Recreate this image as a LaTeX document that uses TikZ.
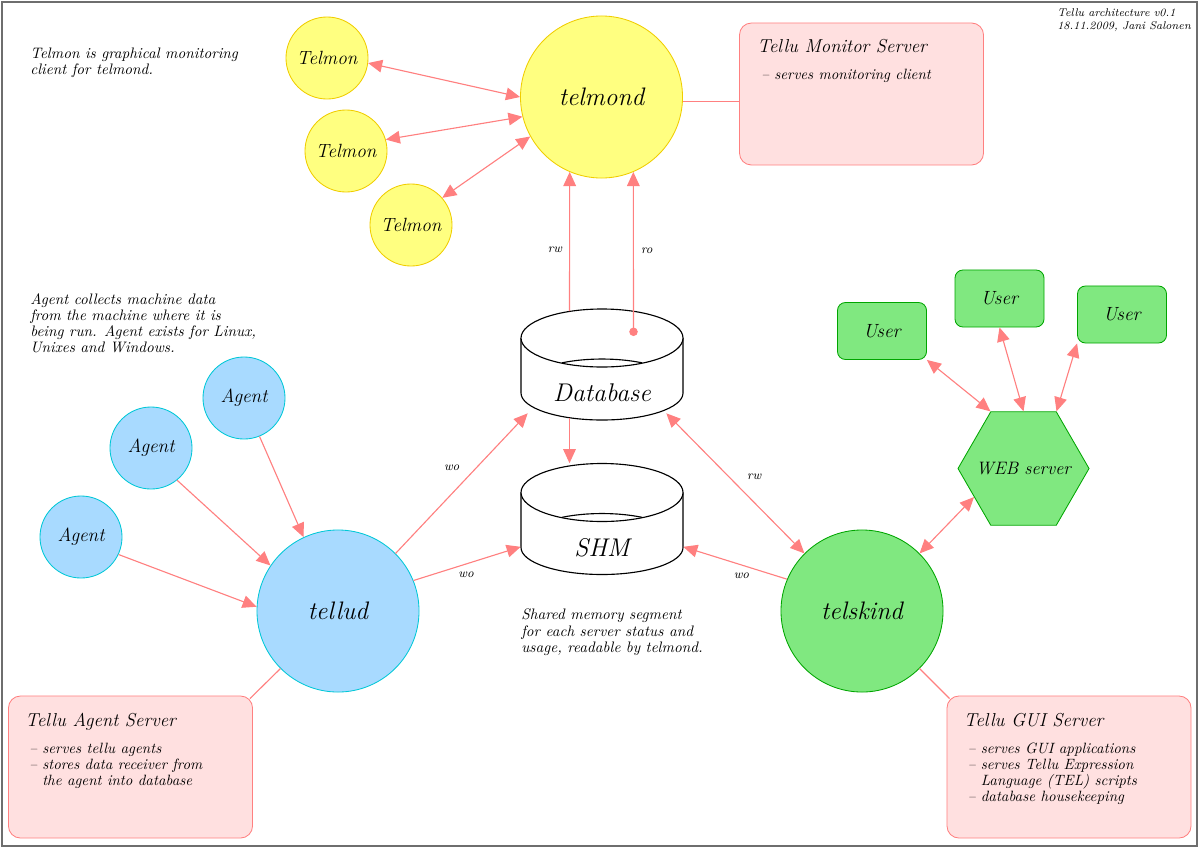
\documentclass[tikz,border=0pt]{standalone}
\usepackage{tikz}
\usetikzlibrary{arrows.meta,shapes.geometric}

\definecolor{linkred}{RGB}{255,128,128}
\definecolor{monfill}{RGB}{255,255,128}
\definecolor{monline}{RGB}{240,205,0}
\definecolor{agfill}{RGB}{168,218,255}
\definecolor{agline}{RGB}{0,200,215}
\definecolor{guifill}{RGB}{128,232,128}
\definecolor{guiline}{RGB}{0,165,0}
\definecolor{boxfill}{RGB}{255,224,224}
\definecolor{boxline}{RGB}{255,128,128}
\definecolor{framegray}{RGB}{110,110,110}

\tikzset{
  server/.style={circle, draw, line width=0.6pt, inner sep=0pt, minimum size=4.05cm, font=\itshape\fontsize{18}{20}\selectfont},
  client/.style={circle, draw, line width=0.6pt, inner sep=0pt, minimum size=2.05cm, font=\itshape\fontsize{13.6}{15}\selectfont},
  mon/.style={draw=monline, fill=monfill},
  ag/.style={draw=agline, fill=agfill},
  gui/.style={draw=guiline, fill=guifill},
  user/.style={rectangle, draw, line width=0.6pt, rounded corners=0.2cm, minimum width=2.225cm, minimum height=1.425cm, font=\itshape\fontsize{13.6}{15}\selectfont, gui},
  websrv/.style={regular polygon, regular polygon sides=6, draw, line width=0.6pt, inner sep=0pt, minimum size=3.275cm, gui,
    label={[font=\itshape\fontsize{12.8}{15}\selectfont]center:#1}},
  infobox/.style={rectangle, draw=boxline, fill=boxfill, line width=0.6pt, rounded corners=0.3cm, minimum width=6.1cm, minimum height=3.55cm, inner sep=0pt},
  boxtext/.style={anchor=north west, inner sep=0pt, align=left, font=\itshape\fontsize{10.6}{11.4}\selectfont},
  note/.style={anchor=north west, inner sep=0pt, align=left, font=\itshape\fontsize{10.8}{11.4}\selectfont},
  link/.style={draw=linkred, line width=0.8pt, >={Triangle[length=10pt,width=9pt]}},
  lbl/.style={font=\small\itshape, text=black, inner sep=5pt},
  pics/store/.style={code={
    \filldraw[line width=0.8pt, fill=white] (-81,-26.5) -- (-81,28.5)
      arc[start angle=180, end angle=0, x radius=81, y radius=27] -- (81,-26.5);
    \draw[line width=0.8pt, fill=white] (0,-26.5) ellipse[x radius=81, y radius=29];
    \draw[line width=0.8pt] (-40,-1.7) arc[start angle=240.4, end angle=299.6, x radius=81, y radius=29];
    \node[inner sep=0pt, minimum width=4.05cm, minimum height=2.775cm] (-box) at (0,0) {};
    \node[font=\itshape\fontsize{18.2}{20}\selectfont] (-text) at (0,28.5) {#1};
  }},
}
\newcommand{\bitem}{\hspace*{0.1cm}--\ }
\newcommand{\bcont}{\hspace*{0.1cm}\hphantom{--\ }}

\begin{document}
\begin{tikzpicture}[x=0.025cm, y=-0.025cm]
  \useasboundingbox (0,0) rectangle (1200,848);
  \draw[framegray, line width=0.8pt] (2,2) rectangle (1197,846);

  % notes
  \node[note, font=\itshape\fontsize{8}{9.2}\selectfont] (version) at (1057,8) {Tellu architecture v0.1\\18.11.2009, Jani Salonen};
  \node[note] (telmonnote) at (30,48) {Telmon is graphical monitoring\\client for telmond.};
  \node[note] (agentnote) at (30,293) {Agent collects machine data\\from the machine where it is\\being run. Agent exists for Linux,\\Unixes and Windows.};
  \node[note] (shmnote) at (521,609) {Shared memory segment\\for each server status and\\usage, readable by telmond.};

  % monitoring
  \node[server, mon] (telmond) at (601.5,97) {telmond};
  \node[client, mon] (telmon1) at (327,58) {Telmon};
  \node[client, mon] (telmon2) at (346,151) {Telmon};
  \node[client, mon] (telmon3) at (411,225) {Telmon};
  \node[infobox] (monbox) at (861.5,94) {};
  \node[boxtext] (montext) at ([shift={(18,16)}]monbox.north west)
    {{\fontsize{13.3}{15}\selectfont Tellu Monitor Server}\\[8pt]\bitem serves monitoring client};

  % storage
  \pic (db) at (602,364.5) {store=Database};
  \pic (shm) at (602,519) {store=SHM};

  % agents
  \node[server, ag] (tellud) at (338,611) {tellud};
  \node[client, ag] (agent1) at (81,537) {Agent};
  \node[client, ag] (agent2) at (151,448) {Agent};
  \node[client, ag] (agent3) at (244,398) {Agent};
  \node[infobox] (agentbox) at (130.5,767) {};
  \node[boxtext] (agenttext) at ([shift={(17,17)}]agentbox.north west)
    {{\fontsize{13.3}{15}\selectfont Tellu Agent Server}\\[8pt]\bitem serves tellu agents\\\bitem stores data receiver from\\\bcont the agent into database};

  % gui
  \node[server, gui] (telskind) at (862,611) {telskind};
  \node[websrv=WEB server] (web) at (1023.5,468.5) {};
  \node[user] (user1) at (882,331) {User};
  \node[user] (user2) at (999.5,298.5) {User};
  \node[user] (user3) at (1122,314.5) {User};
  \node[infobox] (guibox) at (1069,767) {};
  \node[boxtext] (guitext) at ([shift={(17,17)}]guibox.north west)
    {{\fontsize{13.3}{15}\selectfont Tellu GUI Server}\\[8pt]\bitem serves GUI applications\\\bitem serves Tellu Expression\\\bcont Language (TEL) scripts\\\bitem database housekeeping};

  % connectors
  \draw[link, <->] (telmon1.353) -- (telmond.180);
  \draw[link, <->] (telmon2.16) -- (telmond.194);
  \draw[link, <->] (telmon3.41) -- (telmond.209);
  \draw[link] ([yshift=-3]telmond.east) -- ([yshift=-3]telmond.east -| monbox.west);
  \draw[link, ->] ([shift={(-32.5,2.5)}]db-box.north) -- node[lbl, left, pos=0.44] {rw} (telmond.247);
  \draw[link, {Circle[length=6pt]}->] ([shift={(31.5,-28.5)}]db-box.center) -- node[lbl, right, pos=0.52] {ro} (telmond.293);
  \draw[link, ->] ([shift={(-32.5,-2.5)}]db-box.south) -- ([shift={(-32.5,0)}]shm-box.north);

  \draw[link, ->] (agent1.335) -- (tellud.177);
  \draw[link, ->] (agent2.309) -- (tellud.146);
  \draw[link, ->] (agent3.292) -- (tellud.115);
  \draw[link, ->] (tellud.45) -- node[lbl, above left, pos=0.54] {wo} ([shift={(7,-7)}]db-box.south west);
  \draw[link, ->] (tellud.22) -- node[lbl, below, pos=0.49] {wo} ([shift={(0,-28)}]shm-box.south west);
  \draw[link] (tellud.225) -- ([shift={(-3,3)}]agentbox.north east);

  \draw[link, ->] (telskind.157) -- node[lbl, below, pos=0.44] {wo} ([shift={(0,-28)}]shm-box.south east);
  \draw[link, <->] (telskind.135) -- node[lbl, above right, pos=0.47] {rw} ([shift={(-17,-7)}]db-box.south east);
  \draw[link, <->] (telskind.45) -- (web.210);
  \draw[link] (telskind.315) -- ([shift={(3,3)}]guibox.north west);
  \draw[link, <->] (user1.south east) -- (web.120);
  \draw[link, <->] (user2.south) -- (web.90);
  \draw[link, <->] (user3.south west) -- (web.60);
\end{tikzpicture}
\end{document}
